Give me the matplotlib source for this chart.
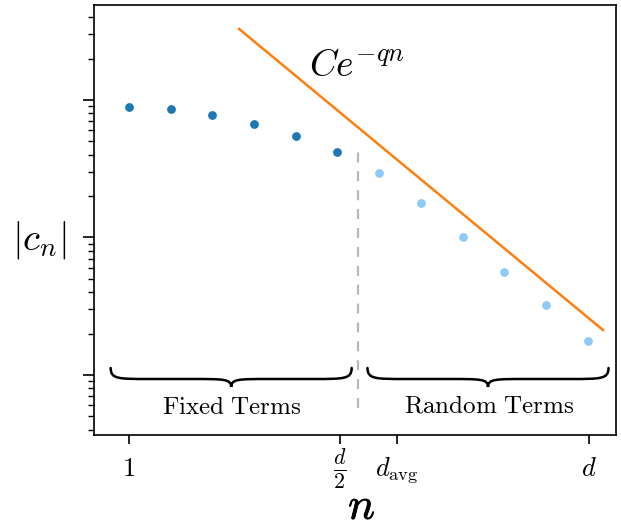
import numpy as np
import matplotlib
matplotlib.use("Agg")
import matplotlib.pyplot as plt
from matplotlib.path import Path
from matplotlib.patches import PathPatch
import matplotlib.transforms as mtransforms
import matplotlib.patheffects as pe
from matplotlib.ticker import LogLocator, NullFormatter, FixedLocator

plt.rcParams['mathtext.fontset'] = 'cm'
plt.rcParams['font.family'] = ['DejaVu Serif']

# ---- data ----
n_fixed = [1, 2, 3, 4, 5, 6]
c_fixed = [0.0887, 0.0853, 0.0778, 0.0670, 0.0549, 0.0419]
n_random = [7, 8, 9, 10, 11, 12]
c_random = [0.0294, 0.0177, 0.0101, 0.00562, 0.00321, 0.00176]
bound_n = [3.64, 12.37]
bound_c = [0.328, 0.00212]
tick_pos = [1, 6.05, 7.43, 12.03]
tick_labels = [r'$1$', r'$\frac{d}{2}$', r'$d_{\mathrm{avg}}$', r'$d$']
split_n = 6.5

fig = plt.figure(figsize=(6.21, 5.27), dpi=100)
ax = fig.add_axes([94/621, 92/527, 522/621, 430/527])
ax.set_yscale('log')
ax.set_xlim(0.16, 12.68)
ax.set_ylim(3.66e-4, 0.49)

ax.scatter(n_fixed, c_fixed, s=40, color='#1f77b4', zorder=3, linewidths=0)
ax.scatter(n_random, c_random, s=40, color='#8fcbf9', zorder=3, linewidths=0)
ax.plot(bound_n, bound_c, color='#ff7f0e', lw=1.8, zorder=2)
ax.text(6.47, 0.175, r'$Ce^{-qn}$', fontsize=27, ha='center', va='center')

trans = mtransforms.blended_transform_factory(ax.transData, ax.transAxes)
ax.plot([split_n, split_n], [0.063, 0.674], transform=trans, color='#b8b8b8',
        lw=1.6, ls=(0, (4.5, 4.0)), zorder=1)


def brace(x0, x1, ytop, ymid, ybot, r):
    xm = (x0 + x1) / 2
    verts = [(x0, ytop),
             (x0, ymid), (x0 + r * 0.2, ymid), (x0 + r, ymid),
             (xm - r, ymid),
             (xm - r * 0.2, ymid), (xm, ymid), (xm, ybot),
             (xm, ymid), (xm + r * 0.2, ymid), (xm + r, ymid),
             (x1 - r, ymid),
             (x1 - r * 0.2, ymid), (x1, ymid), (x1, ytop)]
    codes = [Path.MOVETO,
             Path.CURVE4, Path.CURVE4, Path.CURVE4,
             Path.LINETO,
             Path.CURVE4, Path.CURVE4, Path.CURVE4,
             Path.CURVE4, Path.CURVE4, Path.CURVE4,
             Path.LINETO,
             Path.CURVE4, Path.CURVE4, Path.CURVE4]
    return Path(verts, codes)


ytop = (435 - 368) / 430
ymid = (435 - 379) / 430
ybot = (435 - 387) / 430
for a, b in [(0.56, 6.34), (6.72, 12.5)]:
    p = brace(a, b, ytop, ymid, ybot, 0.9)
    ax.add_patch(PathPatch(p, transform=trans, fill=False, lw=1.8,
                           color='black', capstyle='round'))

ax.text(3.47, (435 - 407) / 430, r'$\mathrm{Fixed\ Terms}$', transform=trans,
        fontsize=18, ha='center', va='center')
ax.text(9.63, (435 - 406) / 430, r'$\mathrm{Random\ Terms}$', transform=trans,
        fontsize=18, ha='center', va='center')

ax.xaxis.set_major_locator(FixedLocator(tick_pos))
ax.set_xticklabels(tick_labels, fontsize=19)
for i, lab in enumerate(ax.get_xticklabels()):
    lab.set_verticalalignment('baseline')
    if i == 1:
        lab.set_fontsize(22.5)
ax.yaxis.set_major_locator(LogLocator(base=10, numticks=20))
ax.yaxis.set_minor_locator(LogLocator(base=10, subs=np.arange(2, 10), numticks=20))
ax.yaxis.set_major_formatter(NullFormatter())
ax.yaxis.set_minor_formatter(NullFormatter())
ax.tick_params(axis='x', length=6.5, width=1.2, pad=23)
ax.tick_params(axis='y', which='major', length=8, width=1.2)
ax.tick_params(axis='y', which='minor', length=4, width=1.0)
for s in ax.spines.values():
    s.set_linewidth(1.2)

ax.set_ylabel(r'$|c_n|$', fontsize=28, rotation=0, ha='center', va='center')
ax.yaxis.set_label_coords((39 - 94) / 522, (435 - 240) / 430)
xl = ax.set_xlabel(r'$n$', fontsize=32, va='baseline')
xl.set_path_effects([pe.withStroke(linewidth=0.6, foreground='black')])
ax.xaxis.set_label_coords((362 - 94) / 522, (435 - 519) / 430)

fig.savefig('out.png', dpi=100)
